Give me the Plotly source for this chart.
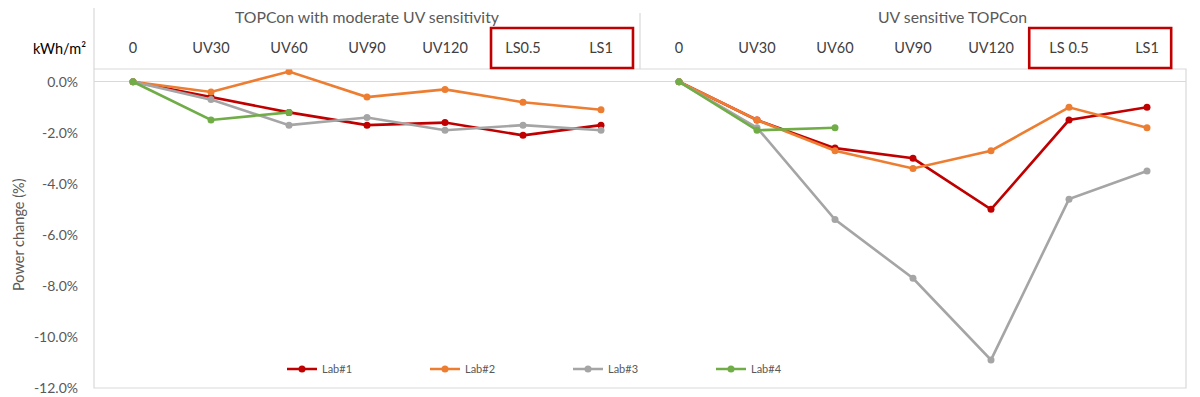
import plotly.graph_objects as go

# ---- data ----
group_titles = ["TOPCon with moderate UV sensitivity", "UV sensitive TOPCon"]
categories_left = ["0", "UV30", "UV60", "UV90", "UV120", "LS0.5", "LS1"]
categories_right = ["0", "UV30", "UV60", "UV90", "UV120", "LS 0.5", "LS1"]
unit_label = "kWh/m²"

lab1_left = [0.0, -0.6, -1.2, -1.7, -1.6, -2.1, -1.7]
lab1_right = [0.0, -1.5, -2.6, -3.0, -5.0, -1.5, -1.0]
lab2_left = [0.0, -0.4, 0.4, -0.6, -0.3, -0.8, -1.1]
lab2_right = [0.0, -1.5, -2.7, -3.4, -2.7, -1.0, -1.8]
lab3_left = [0.0, -0.7, -1.7, -1.4, -1.9, -1.7, -1.9]
lab3_right = [0.0, -1.8, -5.4, -7.7, -10.9, -4.6, -3.5]
lab4_left = [0.0, -1.5, -1.2, None, None, None, None]
lab4_right = [0.0, -1.9, -1.8, None, None, None, None]

series_names = ["Lab#1", "Lab#2", "Lab#3", "Lab#4"]
series_colors = ["#c00000", "#ed7d31", "#a5a5a5", "#70ad47"]

y_tickvals = [0, -2, -4, -6, -8, -10, -12]
y_ticktext = ["0.0%", "-2.0%", "-4.0%", "-6.0%", "-8.0%", "-10.0%", "-12.0%"]

FONT = "Lato, 'Open Sans', sans-serif"
TXT = "#595959"

n_left = len(categories_left)
n_right = len(categories_right)
x_left = list(range(n_left))
x_right = list(range(n_left, n_left + n_right))
all_cats = categories_left + categories_right

fig = go.Figure()
pairs = [(lab1_left, lab1_right), (lab2_left, lab2_right),
         (lab3_left, lab3_right), (lab4_left, lab4_right)]
for (lft, rgt), name, col in zip(pairs, series_names, series_colors):
    xs = x_left + [None] + x_right
    ys = lft + [None] + rgt
    fig.add_trace(go.Scatter(
        x=xs, y=ys, name=name, mode="lines+markers",
        line=dict(color=col, width=2.6),
        marker=dict(color=col, size=7),
        connectgaps=False,
    ))

# page has an 8px body margin; figure sized to fit the 1200x397 window
OFF = 8
W, H = 1200 - OFF, 397 - OFF
# target plot area in page pixels: x 94..1186, y 69..388
L, R, T, B = 94 - OFF, W - (1186 - OFF), 69 - OFF, H - (388 - OFF)
pw = W - L - R
ph = H - T - B

def py(p):
    """page pixel y -> paper y"""
    return ((388) - p) / ph

def px(p):
    """page pixel x -> paper x"""
    return (p - 94) / pw

shapes = [
    dict(type="rect", xref="paper", yref="paper", x0=0, x1=1, y0=0, y1=1,
         line=dict(color="#d9d9d9", width=1.2)),
    dict(type="line", xref="paper", yref="paper", x0=0, x1=0, y0=1, y1=py(OFF),
         line=dict(color="#d9d9d9", width=1.2)),
    dict(type="line", xref="x", yref="paper", x0=n_left - 0.5, x1=n_left - 0.5,
         y0=1, y1=py(5 + OFF), line=dict(color="#d9d9d9", width=1.2)),
    dict(type="rect", xref="x", yref="paper", x0=4.59, x1=6.41, y0=py(68), y1=py(28),
         line=dict(color="#c00000", width=2.6)),
    dict(type="rect", xref="x", yref="paper", x0=11.49, x1=13.31, y0=py(68), y1=py(28),
         line=dict(color="#c00000", width=2.6)),
]

annotations = [
    dict(text=group_titles[0], xref="x", yref="paper", x=3.0, y=py(16.5),
         showarrow=False, font=dict(family=FONT, size=15.8, color=TXT),
         xanchor="center", yanchor="middle"),
    dict(text=group_titles[1], xref="x", yref="paper", x=10.5, y=py(16.5),
         showarrow=False, font=dict(family=FONT, size=15.8, color=TXT),
         xanchor="center", yanchor="middle"),
    dict(text=unit_label, xref="paper", yref="paper", x=px(88), y=py(48),
         showarrow=False, font=dict(family=FONT, size=14.5, color="#000000"),
         xanchor="right", yanchor="middle"),
    dict(text="Power change (%)", xref="paper", yref="paper", x=px(18), y=py(235),
         showarrow=False, textangle=-90, font=dict(family=FONT, size=14.5, color=TXT),
         xanchor="center", yanchor="middle"),
]

fig.update_layout(
    width=W, height=H,
    margin=dict(l=L, r=R, t=T, b=B, autoexpand=False),
    paper_bgcolor="white", plot_bgcolor="white",
    font=dict(family=FONT, color=TXT),
    shapes=shapes, annotations=annotations,
    showlegend=True,
    legend=dict(orientation="h", x=px(282), y=py(369), xanchor="left", yanchor="middle",
                entrywidth=98, entrywidthmode="pixels",
                font=dict(family=FONT, size=11, color=TXT),
                bgcolor="rgba(0,0,0,0)", traceorder="normal"),
    xaxis=dict(
        side="top", range=[-0.5, n_left + n_right - 0.5],
        tickmode="array", tickvals=list(range(len(all_cats))), ticktext=all_cats,
        showgrid=False, zeroline=False, showline=False, ticks="",
        ticklabelstandoff=12,
        tickfont=dict(family=FONT, size=14.5, color="#404040"),
    ),
    yaxis=dict(
        range=[-12, 0.5], tickmode="array", tickvals=y_tickvals, ticktext=y_ticktext,
        showgrid=False, zeroline=True, zerolinecolor="#d9d9d9", zerolinewidth=1.2,
        showline=False, ticks="", ticklabelstandoff=15,
        tickfont=dict(family=FONT, size=14, color=TXT),
    ),
)

fig.write_html("out.html")
